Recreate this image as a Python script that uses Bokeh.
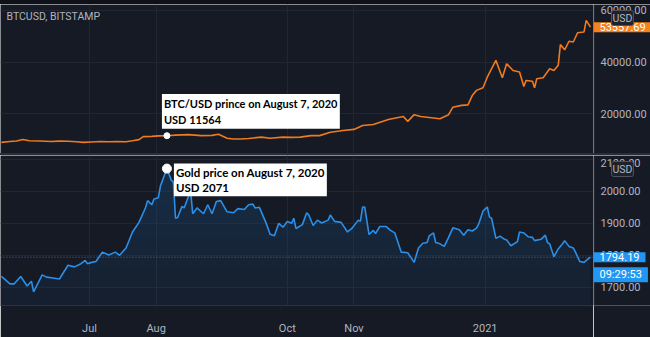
import numpy as np
import pandas as pd
from bokeh.plotting import figure
from bokeh.models import Range1d, FixedTicker, Label, Span, Spacer, Grid
from bokeh.core.properties import value
from bokeh.layouts import column, row
from bokeh.embed import file_html
from bokeh.resources import INLINE

# ---------------- data ----------------
btc_dates = ["2020-05-21", "2020-05-25", "2020-05-28", "2020-05-31", "2020-06-03", "2020-06-08",
             "2020-06-13", "2020-06-17", "2020-06-21", "2020-06-25", "2020-06-28", "2020-07-02",
             "2020-07-06", "2020-07-10", "2020-07-14", "2020-07-18", "2020-07-21", "2020-07-24",
             "2020-07-26", "2020-07-30", "2020-08-02", "2020-08-06", "2020-08-10", "2020-08-16",
             "2020-08-22", "2020-08-27", "2020-08-30", "2020-09-03", "2020-09-06", "2020-09-09",
             "2020-09-13", "2020-09-19", "2020-09-23", "2020-09-29", "2020-10-03", "2020-10-07",
             "2020-10-12", "2020-10-16", "2020-10-21", "2020-10-27", "2020-11-01", "2020-11-05",
             "2020-11-10", "2020-11-17", "2020-11-21", "2020-11-24", "2020-11-26", "2020-11-29",
             "2020-12-02", "2020-12-05", "2020-12-11", "2020-12-15", "2020-12-17", "2020-12-21",
             "2020-12-24", "2020-12-26", "2020-12-28", "2020-12-31", "2021-01-02", "2021-01-06",
             "2021-01-09", "2021-01-11", "2021-01-14", "2021-01-17", "2021-01-19", "2021-01-20",
             "2021-01-23", "2021-01-24", "2021-01-25", "2021-01-28", "2021-01-31", "2021-02-02",
             "2021-02-04", "2021-02-05", "2021-02-07", "2021-02-09", "2021-02-11", "2021-02-13",
             "2021-02-16", "2021-02-17", "2021-02-19"]
btc_values = [9000, 9300, 9500, 10100, 9600, 9500,
              9300, 9450, 9400, 9200, 9000, 9150,
              9300, 9250, 9300, 9200, 9600, 10050,
              11200, 11300, 11500, 11564, 11800, 12000,
              11600, 11700, 12100, 10600, 10300, 10300,
              10500, 11000, 10600, 11000, 10900, 11000,
              11600, 11600, 12900, 13600, 14000, 15500,
              15900, 17800, 18500, 19000, 17100, 19700,
              19000, 18700, 18100, 19700, 22600, 23300,
              23500, 27100, 29100, 30100, 34200, 40700,
              34000, 39400, 36800, 36200, 30600, 32900,
              32600, 30100, 33600, 34000, 37500, 36800,
              38800, 46800, 44800, 48100, 47800, 51400,
              51700, 56200, 53557.69]

gold_dates = ["2020-05-21", "2020-05-22", "2020-05-25", "2020-05-27", "2020-05-30", "2020-06-02",
              "2020-06-04", "2020-06-05", "2020-06-09", "2020-06-11", "2020-06-14", "2020-06-17",
              "2020-06-21", "2020-06-24", "2020-06-27", "2020-06-29", "2020-06-30", "2020-07-02",
              "2020-07-04", "2020-07-07", "2020-07-10", "2020-07-13", "2020-07-15", "2020-07-18",
              "2020-07-21", "2020-07-24", "2020-07-27", "2020-07-28", "2020-07-30", "2020-07-31",
              "2020-08-02", "2020-08-03", "2020-08-06", "2020-08-08", "2020-08-09", "2020-08-10",
              "2020-08-11", "2020-08-13", "2020-08-14", "2020-08-17", "2020-08-18", "2020-08-20",
              "2020-08-23", "2020-08-25", "2020-08-27", "2020-08-29", "2020-08-31", "2020-09-03",
              "2020-09-06", "2020-09-08", "2020-09-11", "2020-09-13", "2020-09-15", "2020-09-16",
              "2020-09-18", "2020-09-21", "2020-09-23", "2020-09-25", "2020-09-27", "2020-09-29",
              "2020-10-01", "2020-10-03", "2020-10-04", "2020-10-05", "2020-10-08", "2020-10-10",
              "2020-10-11", "2020-10-13", "2020-10-15", "2020-10-17", "2020-10-20", "2020-10-21",
              "2020-10-23", "2020-10-26", "2020-10-29", "2020-10-31", "2020-11-03", "2020-11-04",
              "2020-11-05", "2020-11-06", "2020-11-08", "2020-11-10", "2020-11-11", "2020-11-13",
              "2020-11-16", "2020-11-18", "2020-11-20", "2020-11-23", "2020-11-26", "2020-11-29",
              "2020-12-01", "2020-12-03", "2020-12-05", "2020-12-06", "2020-12-08", "2020-12-09",
              "2020-12-11", "2020-12-13", "2020-12-15", "2020-12-17", "2020-12-20", "2020-12-22",
              "2020-12-24", "2020-12-26", "2020-12-28", "2020-12-29", "2020-12-31", "2021-01-02",
              "2021-01-03", "2021-01-04", "2021-01-06", "2021-01-08", "2021-01-10", "2021-01-11",
              "2021-01-13", "2021-01-16", "2021-01-17", "2021-01-19", "2021-01-21", "2021-01-23",
              "2021-01-24", "2021-01-27", "2021-01-29", "2021-01-30", "2021-01-31", "2021-02-02",
              "2021-02-04", "2021-02-06", "2021-02-07", "2021-02-09", "2021-02-11", "2021-02-12",
              "2021-02-14", "2021-02-16", "2021-02-18", "2021-02-19"]
gold_values = [1734, 1729, 1711, 1711, 1734, 1704,
               1719, 1686, 1739, 1732, 1729, 1726,
               1769, 1764, 1774, 1784, 1774, 1778,
               1781, 1810, 1801, 1810, 1800, 1823,
               1873, 1903, 1948, 1971, 1958, 1976,
               1980, 2017, 2071, 2035, 2029, 1916,
               1918, 1953, 1948, 2002, 1930, 1948,
               1930, 1958, 1930, 1968, 1971, 1936,
               1933, 1946, 1943, 1958, 1960, 1948,
               1950, 1903, 1866, 1861, 1900, 1888,
               1906, 1900, 1916, 1884, 1896, 1933,
               1926, 1893, 1910, 1901, 1910, 1926,
               1906, 1903, 1873, 1884, 1910, 1906,
               1951, 1951, 1865, 1878, 1868, 1890,
               1890, 1878, 1870, 1810, 1808, 1778,
               1823, 1838, 1840, 1861, 1870, 1840,
               1836, 1828, 1856, 1886, 1880, 1863,
               1880, 1876, 1885, 1898, 1938, 1951,
               1920, 1916, 1853, 1860, 1850, 1848,
               1830, 1843, 1873, 1870, 1858, 1856,
               1846, 1850, 1863, 1840, 1836, 1796,
               1820, 1836, 1846, 1828, 1823, 1810,
               1781, 1778, 1790, 1794.19]

btc_ticks = [20000, 40000, 60000]
gold_ticks = [1700, 1800, 1900, 2000, 2100]
x_tick_dates = ["2020-07-01", "2020-08-01", "2020-10-01", "2020-11-01", "2021-01-01"]
x_tick_labels = ["Jul", "Aug", "Oct", "Nov", "2021"]

ann_date = ["2020-08-06"]
ann_btc = [11564]
ann_gold = [2071]
ann_btc_text = "BTC/USD prince on August 7, 2020\nUSD 11564"
ann_gold_text = "Gold price on August 7, 2020\nUSD 2071"
title_text = "BTCUSD, BITSTAMP"
currency_text = "USD"
countdown_text = "09:29:53"

# ---------------- style ----------------
BG = "#161a25"
GRID = "#222631"
AXLINE = "#2e323d"
TXT = "#b2b5be"
ORANGE = "#f07a1e"
ORANGE_TAG = "#f7821b"
BLUE = "#2b8fe8"
BLUE_TAG = "#2196f3"
AXFONT = "Roboto"
ANNFONT = "Lato"

btc_dt = pd.to_datetime(btc_dates)
gold_dt = pd.to_datetime(gold_dates)
ann_dt = pd.to_datetime(ann_date)
tick_ms = [int(pd.Timestamp(d).value // 10**6) for d in x_tick_dates]

jul1 = pd.Timestamp("2020-07-01")
x_start = (jul1 - pd.Timedelta(days=41.4)).to_pydatetime()
x_end = (jul1 + pd.Timedelta(days=234.4)).to_pydatetime()
xr = Range1d(start=x_start, end=x_end)

yr1 = Range1d(4681, 62321)
yr2 = Range1d(1643.3, 2111.9)

MAIN_W = 593
SIDE_W = 57


def main_fig(height, yr, ticks, xloc, bottom):
    p = figure(width=MAIN_W, height=height, x_range=xr, y_range=yr,
               x_axis_type="datetime", x_axis_location=xloc, y_axis_location=None,
               output_backend="svg", toolbar_location=None,
               min_border_left=0, min_border_right=0, min_border_top=0, min_border_bottom=bottom,
               background_fill_color=BG, border_fill_color=BG, outline_line_color=None)
    p.grid.visible = False
    p.add_layout(Grid(dimension=0, ticker=FixedTicker(ticks=tick_ms), grid_line_color=GRID))
    p.add_layout(Grid(dimension=1, ticker=FixedTicker(ticks=ticks), grid_line_color=GRID))
    return p


def side_fig(height, yr, ticks, bottom, top_nudge=0):
    s = figure(width=SIDE_W, height=height, x_range=Range1d(0, SIDE_W), y_range=yr,
               x_axis_location=None, y_axis_location=None,
               output_backend="svg", toolbar_location=None,
               min_border_left=0, min_border_right=0, min_border_top=0, min_border_bottom=bottom,
               background_fill_color=BG, border_fill_color=BG, outline_line_color=None)
    s.grid.visible = False
    s.add_layout(Span(location=0.5, dimension="height", line_color=AXLINE, line_width=1))
    inner = ticks[:-1] if top_nudge else ticks
    s.text(x=7, y=inner, text=[f"{t:.2f}" for t in inner], text_color=TXT,
           text_font=value(AXFONT), text_font_size="11px",
           text_align="left", text_baseline="middle")
    if top_nudge:
        s.text(x=7, y=ticks[-1:], text=[f"{t:.2f}" for t in ticks[-1:]], text_color=TXT,
               text_font=value(AXFONT), text_font_size="11px", y_offset=top_nudge,
               text_align="left", text_baseline="middle")
    return s


def tag(fig, y, text, color, y_offset=0):
    fig.add_layout(Label(x=0, y=y, y_offset=y_offset, text=text, text_color="white",
                         text_font=AXFONT, text_font_size="11px",
                         text_align="left", text_baseline="middle",
                         background_fill_color=color, padding=(6, 1)))


def currency(fig, yr):
    fig.add_layout(Label(x=18, y=yr.end, y_offset=-13.5, text=currency_text,
                         text_color=TXT, text_font=AXFONT, text_font_size="10.5px",
                         text_align="left", text_baseline="middle",
                         background_fill_color="#1e222d", border_line_color="#50535e",
                         padding=(1, 1), border_radius=2))


# ---------------- top panel: BTC ----------------
p1 = main_fig(149, yr1, btc_ticks, None, 0)
p1.line(btc_dt, btc_values, line_color=ORANGE, line_width=1.6)
p1.scatter(ann_dt, ann_btc, size=6, fill_color="white", line_color="white")
p1.add_layout(Label(x=x_start, y=yr1.end, x_offset=6, y_offset=-12, text=title_text,
                    text_color=TXT, text_font=AXFONT, text_font_size="10.5px",
                    text_baseline="middle", text_align="left"))
p1.add_layout(Label(x=ann_dt[0], y=ann_btc[0], x_offset=-5, y_offset=7, text=ann_btc_text,
                    text_color="black", text_font=ANNFONT, text_font_style="bold",
                    text_font_size="11px", text_align="left", text_baseline="bottom",
                    background_fill_color="white", padding=(2, 3)))

s1 = side_fig(149, yr1, btc_ticks, 0)
tag(s1, btc_values[-1], f"{btc_values[-1]:.2f}", ORANGE_TAG)
currency(s1, yr1)

# ---------------- bottom panel: Gold ----------------
p2 = main_fig(182, yr2, gold_ticks, "below", 25)
p2.xaxis.ticker = FixedTicker(ticks=tick_ms)
p2.xaxis.major_label_overrides = {t: lab for t, lab in zip(tick_ms, x_tick_labels)}
p2.xaxis.axis_line_color = AXLINE
p2.xaxis.major_tick_line_color = None
p2.xaxis.minor_tick_line_color = None
p2.xaxis.major_label_standoff = 10
p2.xaxis.major_label_text_color = TXT
p2.xaxis.major_label_text_font = AXFONT
p2.xaxis.major_label_text_font_size = "11px"

gold_arr = np.array(gold_values, dtype=float)
p2.varea(x=gold_dt, y1=yr2.start, y2=gold_arr, fill_color=BLUE, fill_alpha=0.05)
for lvl in np.arange(1700, 2100, 50):
    p2.varea(x=gold_dt, y1=lvl, y2=np.maximum(gold_arr, lvl), fill_color=BLUE, fill_alpha=0.022)
p2.add_layout(Span(location=gold_values[-1], dimension="width", line_color="#4f6f9a",
                   line_dash="1 2", line_width=1))
p2.line(gold_dt, gold_values, line_color=BLUE, line_width=1.6)
p2.scatter(ann_dt, ann_gold, size=9, fill_color="white", line_color="white")
p2.add_layout(Label(x=ann_dt[0], y=ann_gold[0], x_offset=7, y_offset=5, text=ann_gold_text,
                    text_color="black", text_font=ANNFONT, text_font_style="bold",
                    text_font_size="11.5px", text_align="left", text_baseline="top",
                    background_fill_color="white", padding=(2, 2)))

s2 = side_fig(182, yr2, gold_ticks, 25, top_nudge=4)
tag(s2, gold_values[-1], f"{gold_values[-1]:.2f}", BLUE_TAG)
tag(s2, gold_values[-1], countdown_text, BLUE_TAG, y_offset=-17.5)
currency(s2, yr2)

layout = column(
    Spacer(width=650, height=4, styles={"background-color": "#0e1118"}),
    row(p1, s1, spacing=0),
    Spacer(width=650, height=2, styles={"background-color": "#2a2e39"}),
    row(p2, s2, spacing=0),
    spacing=0,
)

open("out.html", "w").write(file_html(layout, INLINE))
